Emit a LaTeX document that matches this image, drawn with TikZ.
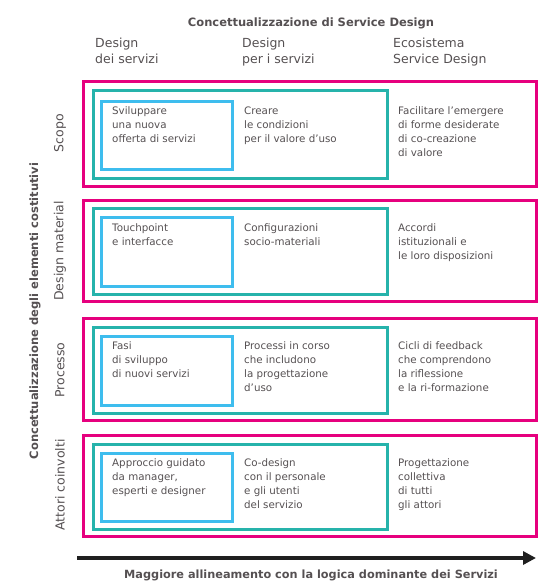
\documentclass[tikz,border=0pt]{standalone}
\usepackage{fontspec}
\setmainfont{DejaVu Sans}
\usepackage{xcolor}
\usepackage{tikz}
\usetikzlibrary{arrows.meta}
\definecolor{rosa}{RGB}{230, 0, 126}
\definecolor{ottanio}{RGB}{0, 166, 156}
\definecolor{azzurro}{RGB}{41, 182, 236}
\definecolor{testo}{RGB}{85, 80, 82}

\begin{document}
\begin{tikzpicture}[x=1pt, y=-1pt, line join=miter,
    cornice/.style={draw=rosa, line width=3pt},
    quadro/.style={draw=ottanio!85, line width=3pt},
    riquadro/.style={draw=azzurro!90, line width=3pt},
    voce/.style={anchor=north west, align=left, inner sep=0pt, text=testo,
        font=\fontsize{10.3}{14}\selectfont, execute at begin node={\strut}},
    testata/.style={anchor=north west, align=left, inner sep=0pt, text=testo,
        font=\fontsize{12.5}{16}\selectfont, execute at begin node={\strut}},
    riga/.style={rotate=90, inner sep=0pt, text=testo,
        font=\fontsize{12.5}{14}\selectfont}]
    \useasboundingbox (0,0) rectangle (539,582);

    % Titolo e intestazioni delle colonne
    \node[text=testo, font=\fontsize{11.5}{14}\bfseries] (titolo) at (311,23) {Concettualizzazione di Service Design};
    \node[testata] (col1) at (95,37.3) {Design\\dei servizi};
    \node[testata] (col2) at (242,37.3) {Design\\per i servizi};
    \node[testata] (col3) at (393,37.3) {Ecosistema\\Service Design};

    % Cornici delle righe (rosa), riquadri di servizio (verde) e di sviluppo (azzurro)
    \draw[cornice] (83,81) rectangle (536,186);
    \draw[quadro] (93,90) rectangle (387,178);
    \draw[riquadro] (101,101) rectangle (232,169);

    \draw[cornice] (83,200) rectangle (536,301);
    \draw[quadro] (93,208) rectangle (387,294);
    \draw[riquadro] (101,217) rectangle (232,286);

    \draw[cornice] (83,318) rectangle (536,420);
    \draw[quadro] (93,327) rectangle (387,413);
    \draw[riquadro] (101,336) rectangle (232,405);

    \draw[cornice] (83,435) rectangle (536,536);
    \draw[quadro] (93,444) rectangle (387,529);
    \draw[riquadro] (101,453) rectangle (232,521);

    % Etichette delle righe
    \node[riga] (scopo) at (60,133) {Scopo};
    \node[riga] (materiale) at (60,251) {Design material};
    \node[riga] (processo) at (60,370) {Processo};
    \node[riga] (attori) at (60,485) {Attori coinvolti};
    \node[riga, font=\fontsize{11.5}{13}\bfseries] (elementi) at (35,311) {Concettualizzazione degli elementi costitutivi};

    % Riga 1: Scopo
    \node[voce] (s1) at (112,106.7) {Sviluppare\\una nuova\\offerta di servizi};
    \node[voce] (s2) at (244,106.7) {Creare\\le condizioni\\per il valore d'uso};
    \node[voce] (s3) at (398,106.7) {Facilitare l'emergere\\di forme desiderate\\di co-creazione\\di valore};

    % Riga 2: Design material
    \node[voce] (m1) at (112,223.7) {Touchpoint\\e interfacce};
    \node[voce] (m2) at (244,223.7) {Configurazioni\\socio-materiali};
    \node[voce] (m3) at (398,223.7) {Accordi\\istituzionali e\\le loro disposizioni};

    % Riga 3: Processo
    \node[voce] (p1) at (112,341.7) {Fasi\\di sviluppo\\di nuovi servizi};
    \node[voce] (p2) at (244,341.7) {Processi in corso\\che includono\\la progettazione\\d'uso};
    \node[voce] (p3) at (398,341.7) {Cicli di feedback\\che comprendono\\la riflessione\\e la ri-formazione};

    % Riga 4: Attori coinvolti
    \node[voce] (a1) at (112,458.7) {Approccio guidato\\da manager,\\esperti e designer};
    \node[voce] (a2) at (244,458.7) {Co-design\\con il personale\\e gli utenti\\del servizio};
    \node[voce] (a3) at (398,458.7) {Progettazione\\collettiva\\di tutti\\gli attori};

    % Freccia in basso
    \coordinate (inizio) at (77,558);
    \coordinate (fine) at (536,558);
    \draw[-{Triangle[length=13pt, width=13pt]}, line width=3.2pt, black!88] (inizio) -- (fine);
    \node[text=testo, font=\fontsize{11.3}{13}\bfseries] (logica) at (311,575) {Maggiore allineamento con la logica dominante dei Servizi};
\end{tikzpicture}
\end{document}
